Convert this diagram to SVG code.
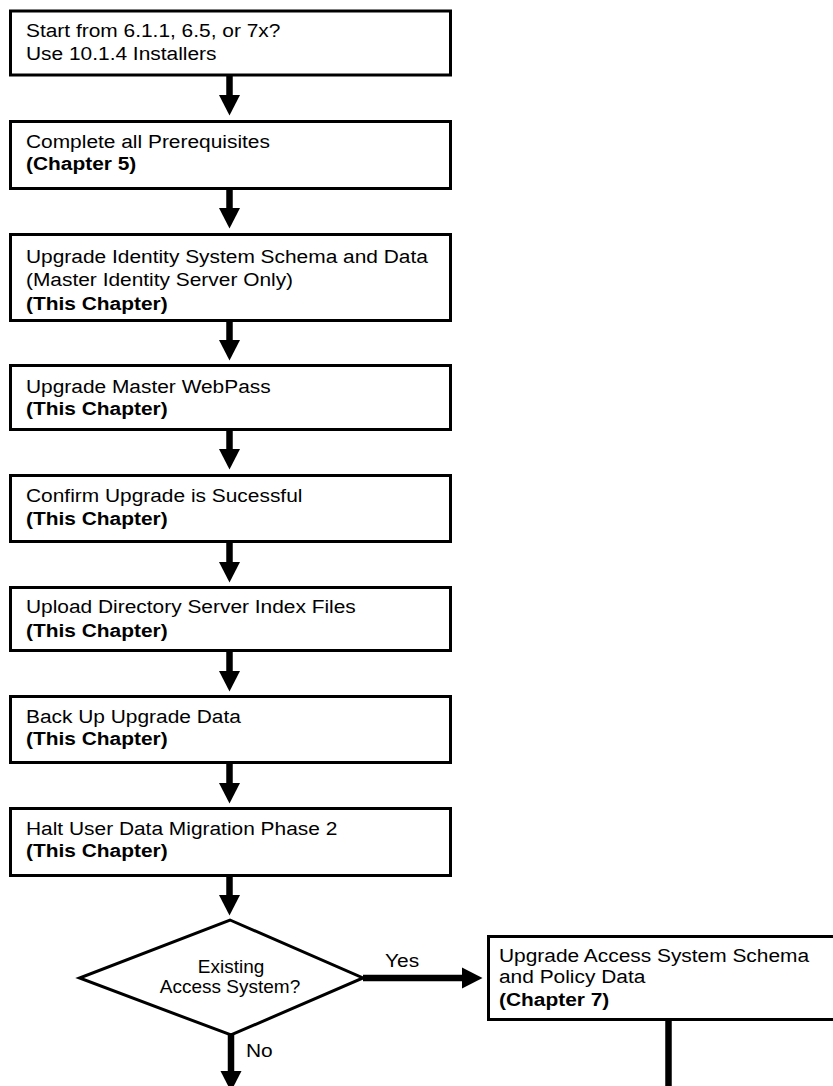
<svg xmlns="http://www.w3.org/2000/svg" width="833" height="1086" viewBox="0 0 833 1086">
<style>
  .box { fill: #fff; stroke: #000; stroke-width: 3; }
  .t { font-family: "Liberation Sans", Arial, Helvetica, sans-serif; font-size: 19px; fill: #000; }
  .b { font-weight: bold; }
  .dt { font-family: "Liberation Sans", Arial, Helvetica, sans-serif; font-size: 19px; fill: #000; text-anchor: middle; }
  .conn { stroke: #000; stroke-width: 6.5; fill: none; }
</style>
<defs>
  <marker id="ah" markerUnits="userSpaceOnUse" markerWidth="21" markerHeight="22" viewBox="0 -11 21 22" refX="0" refY="0" orient="auto">
    <path d="M0,-10.5 L20.5,0 L0,10.5 z" fill="#000"/>
  </marker>
</defs>
<rect width="833" height="1086" fill="#fff"/>

<g id="connectors">
  <line class="conn" x1="229.5" y1="76" x2="229.5" y2="95" marker-end="url(#ah)"/>
  <line class="conn" x1="229.5" y1="189" x2="229.5" y2="208" marker-end="url(#ah)"/>
  <line class="conn" x1="229.5" y1="321" x2="229.5" y2="340" marker-end="url(#ah)"/>
  <line class="conn" x1="229.5" y1="430" x2="229.5" y2="449" marker-end="url(#ah)"/>
  <line class="conn" x1="229.5" y1="542" x2="229.5" y2="562" marker-end="url(#ah)"/>
  <line class="conn" x1="229.5" y1="651" x2="229.5" y2="671" marker-end="url(#ah)"/>
  <line class="conn" x1="229.5" y1="763" x2="229.5" y2="783" marker-end="url(#ah)"/>
  <line class="conn" x1="229.5" y1="876" x2="229.5" y2="895" marker-end="url(#ah)"/>
  <line class="conn" x1="231" y1="1035" x2="231" y2="1071" marker-end="url(#ah)"/>
  <line class="conn" x1="363" y1="978" x2="462" y2="978" stroke-width="5.5" marker-end="url(#ah)"/>
  <line class="conn" x1="668.5" y1="1020" x2="668.5" y2="1090" stroke-width="6"/>
  <text class="t" transform="translate(385 0) scale(1.1 1)" x="0" y="967">Yes</text>
  <text class="t" transform="translate(246 0) scale(1.1 1)" x="0" y="1057">No</text>
</g>

<g id="n1">
  <rect class="box" x="10.5" y="11" width="440" height="64"/>
  <text class="t" transform="translate(26 0) scale(1.1 1)"><tspan x="0" y="37">Start from 6.1.1, 6.5, or 7x?</tspan><tspan x="0" y="60">Use 10.1.4 Installers</tspan></text>
</g>
<g id="n2">
  <rect class="box" x="10.5" y="121.5" width="440" height="67"/>
  <text class="t" transform="translate(26 0) scale(1.1 1)"><tspan x="0" y="148">Complete all Prerequisites</tspan><tspan class="b" x="0" y="170">(Chapter 5)</tspan></text>
</g>
<g id="n3">
  <rect class="box" x="10.5" y="234.5" width="440" height="86"/>
  <text class="t" transform="translate(26 0) scale(1.1 1)"><tspan x="0" y="263">Upgrade Identity System Schema and Data</tspan><tspan x="0" y="286">(Master Identity Server Only)</tspan><tspan class="b" x="0" y="310">(This Chapter)</tspan></text>
</g>
<g id="n4">
  <rect class="box" x="10.5" y="365.5" width="440" height="64"/>
  <text class="t" transform="translate(26 0) scale(1.1 1)"><tspan x="0" y="393">Upgrade Master WebPass</tspan><tspan class="b" x="0" y="415">(This Chapter)</tspan></text>
</g>
<g id="n5">
  <rect class="box" x="10.5" y="475.5" width="440" height="66"/>
  <text class="t" transform="translate(26 0) scale(1.1 1)"><tspan x="0" y="502">Confirm Upgrade is Sucessful</tspan><tspan class="b" x="0" y="525">(This Chapter)</tspan></text>
</g>
<g id="n6">
  <rect class="box" x="10.5" y="587.5" width="440" height="63"/>
  <text class="t" transform="translate(26 0) scale(1.1 1)"><tspan x="0" y="613">Upload Directory Server Index Files</tspan><tspan class="b" x="0" y="637">(This Chapter)</tspan></text>
</g>
<g id="n7">
  <rect class="box" x="10.5" y="696.5" width="440" height="66"/>
  <text class="t" transform="translate(26 0) scale(1.1 1)"><tspan x="0" y="723">Back Up Upgrade Data</tspan><tspan class="b" x="0" y="745">(This Chapter)</tspan></text>
</g>
<g id="n8">
  <rect class="box" x="10.5" y="808.5" width="440" height="67"/>
  <text class="t" transform="translate(26 0) scale(1.1 1)"><tspan x="0" y="835">Halt User Data Migration Phase 2</tspan><tspan class="b" x="0" y="857">(This Chapter)</tspan></text>
</g>
<g id="decision">
  <polygon class="box" points="230,920 363,978 231,1035 79.5,978"/>
  <text class="dt"><tspan x="231" y="973">Existing</tspan><tspan x="230" y="993">Access System?</tspan></text>
</g>
<g id="n9">
  <rect class="box" x="488.5" y="936.5" width="360" height="83"/>
  <text class="t" transform="translate(499 0) scale(1.1 1)"><tspan x="0" y="962">Upgrade Access System Schema</tspan><tspan x="0" y="983">and Policy Data</tspan><tspan class="b" x="0" y="1006">(Chapter 7)</tspan></text>
</g>
</svg>
